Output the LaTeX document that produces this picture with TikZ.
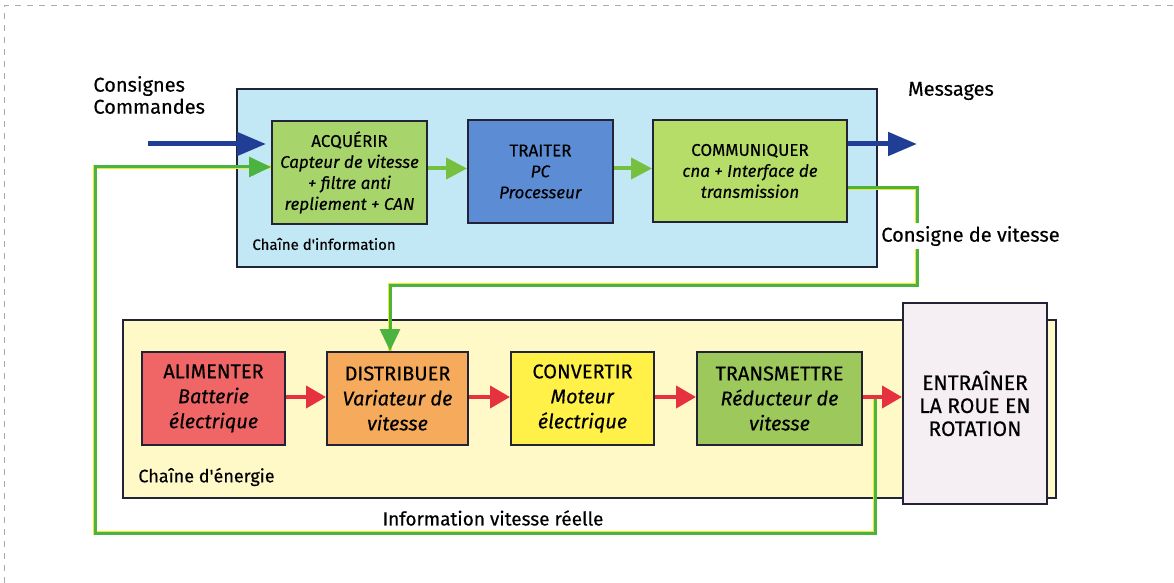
\documentclass[tikz,border=0pt]{standalone}
\usepackage{fontspec}
\setmainfont{Fira Sans}[UprightFeatures={FakeBold=0.35}, ItalicFeatures={FakeBold=0.35}]
\usepackage{tikz}
\usetikzlibrary{arrows.meta}
\definecolor{infobg}{RGB}{194,232,246}
\definecolor{energybg}{RGB}{255,249,200}
\definecolor{boxline}{RGB}{35,35,55}
\definecolor{acqgreen}{RGB}{168,212,108}
\definecolor{procblue}{RGB}{92,140,212}
\definecolor{commgreen}{RGB}{182,221,104}
\definecolor{alimred}{RGB}{240,102,102}
\definecolor{distorange}{RGB}{245,170,92}
\definecolor{convyellow}{RGB}{255,241,72}
\definecolor{transgreen}{RGB}{156,200,92}
\definecolor{wheelpink}{RGB}{245,238,242}
\definecolor{arrowblue}{RGB}{32,62,150}
\definecolor{arrowred}{RGB}{230,50,62}
\definecolor{linkgreen}{RGB}{118,192,64}
\definecolor{fbgreen}{RGB}{76,178,64}
\definecolor{fbyellow}{RGB}{232,236,40}
\definecolor{framegray}{RGB}{170,170,170}

\begin{document}
\begin{tikzpicture}[x=0.5pt, y=-0.5pt, font=\fontsize{10}{12.5}\selectfont,
    chainbox/.style={draw=boxline, line width=1pt, inner sep=0pt},
    fninfo/.style={draw=boxline, line width=1pt, inner sep=0pt, align=center,
                   minimum height=51.5pt, font=\fontsize{8.5}{10.5}\selectfont},
    fnener/.style={draw=boxline, line width=1pt, inner sep=0pt, align=center,
                   minimum height=46.5pt, font=\fontsize{10}{12.5}\selectfont},
    lab/.style={font=\fontsize{10}{11}\selectfont, inner sep=1pt},
    chainlab/.style={anchor=west, inner sep=0pt},
    bluearr/.style={-{Triangle[length=14.5pt,width=11.5pt]}, line width=2.5pt, arrowblue},
    greenarr/.style={-{Triangle[length=10.5pt,width=10.5pt]}, line width=2pt, linkgreen},
    redarr/.style={-{Triangle[length=10pt,width=11pt]}, line width=2pt, arrowred},
    fbline/.style={line width=1.5pt, fbgreen,
                   preaction={draw=fbyellow, line width=2.4pt, arrows=-},
                   -{Triangle[length=11pt,width=10pt]}}]
\useasboundingbox (0,0) rectangle (1174,583);
\draw[framegray, dashed, line width=0.5pt] (4,583) -- (4,6) -- (1174,6);

\node[chainbox, fill=infobg, minimum width=320pt, minimum height=89pt] (info) at (557,178) {};
\node[chainbox, fill=energybg, minimum width=466.5pt, minimum height=89pt] (ener) at (589.5,409) {};
\node[chainbox, fill=wheelpink, minimum width=72pt, minimum height=100.5pt, align=center,
      font=\fontsize{10.5}{11.5}\selectfont] (wheel) at (975,403.5)
      {ENTRAÎNER\\LA ROUE EN\\ROTATION};

\node[fninfo, fill=acqgreen, minimum width=77.5pt] (acq) at (349.5,172.5)
      {ACQUÉRIR\\\textit{Capteur de vitesse}\\\textit{+ filtre anti}\\\textit{repliement + CAN}};
\node[fninfo, fill=procblue, minimum width=72.5pt] (proc) at (540.5,171.5)
      {TRAITER\\\textit{PC}\\\textit{Processeur}};
\node[fninfo, fill=commgreen, minimum width=97pt, minimum height=51pt] (comm) at (750,171)
      {COMMUNIQUER\\\textit{cna + Interface de}\\\textit{transmission}};

\node[fnener, fill=alimred, minimum width=71.5pt] (alim) at (213.5,398.5)
      {ALIMENTER\\\textit{Batterie}\\\textit{électrique}};
\node[fnener, fill=distorange, minimum width=70.5pt] (dist) at (397.5,398.5)
      {DISTRIBUER\\\textit{Variateur de}\\\textit{vitesse}};
\node[fnener, fill=convyellow, minimum width=71.5pt] (conv) at (582.5,398.5)
      {CONVERTIR\\\textit{Moteur}\\\textit{électrique}};
\node[fnener, fill=transgreen, minimum width=82.5pt] (trans) at (779.5,398.5)
      {TRANSMETTRE\\\textit{Réducteur de}\\\textit{vitesse}};

\node[chainlab, font=\fontsize{7.5}{9}\selectfont] (infolab) at (252,244) {Chaîne d\textquotesingle information};
\node[chainlab, font=\fontsize{9}{10}\selectfont] (enerlab) at (138,477) {Chaîne d\textquotesingle énergie};

\node[lab, anchor=west, align=left] (orders) at (91,95) {Consignes\\Commandes};
\node[lab] (msg) at (951,91) {Messages};
\node[lab, font=\fontsize{9.5}{11}\selectfont] (realspeed) at (493,518) {Information vitesse réelle};

\coordinate (cin) at (148,144);
\coordinate (mout) at (917,144);
\coordinate (cbend) at (917,285);
\coordinate (tap) at ([xshift=6pt]trans.east);
\coordinate (fbcorner) at (95,533);

\draw[bluearr] (cin) -- ([xshift=-2.5pt]cin -| acq.west);
\draw[bluearr] (mout -| comm.east) -- (mout);
\draw[greenarr] ([yshift=2pt]acq.east) -- ([yshift=2pt]acq.east -| proc.west);
\draw[greenarr] ([yshift=1.5pt]proc.east) -- ([yshift=1.5pt]proc.east -| comm.west);

\draw[fbline] ([yshift=-8.5pt]comm.east) -| (cbend) -| ([xshift=-3.75pt]dist.north);
\node[lab, fill=white, inner sep=1.5pt] (setspeed) at (970.5,236) {Consigne de vitesse};

\draw[redarr] ([yshift=0.75pt]alim.east) -- ([yshift=0.75pt]alim.east -| dist.west);
\draw[redarr] ([yshift=0.75pt]dist.east) -- ([yshift=0.75pt]dist.east -| conv.west);
\draw[redarr] ([yshift=0.75pt]conv.east) -- ([yshift=0.75pt]conv.east -| trans.west);
\draw[redarr] ([yshift=0.75pt]trans.east) -- ([yshift=0.75pt]trans.east -| wheel.west);

\draw[fbline] (tap) |- (fbcorner) |- ([yshift=2.75pt]acq.west);
\end{tikzpicture}
\end{document}
